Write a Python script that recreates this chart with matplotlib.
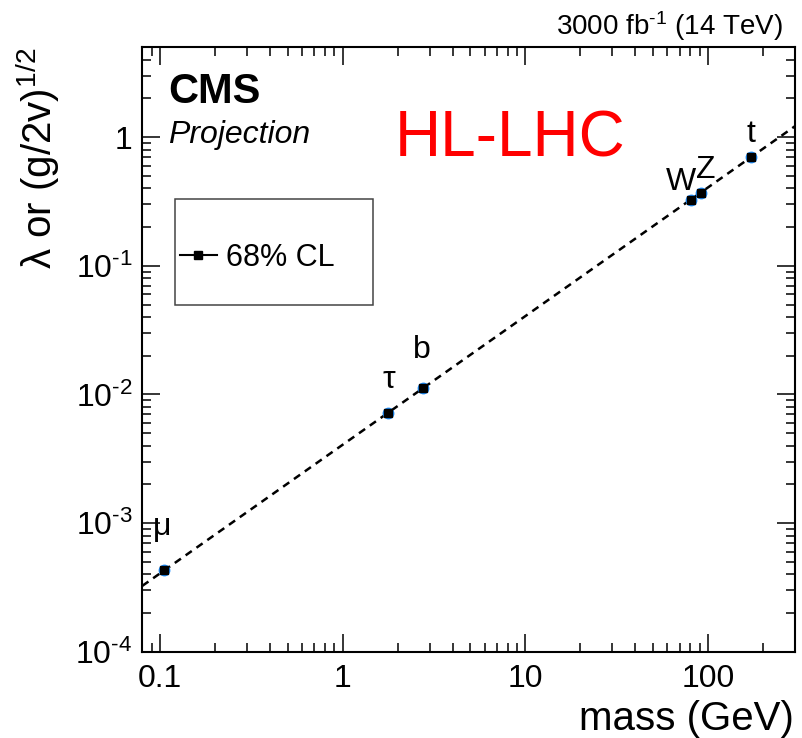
import numpy as np
import matplotlib
matplotlib.use("Agg")
import matplotlib.pyplot as plt
from matplotlib.patches import Rectangle
from matplotlib.lines import Line2D
from matplotlib.ticker import FixedLocator, LogLocator, FuncFormatter, NullFormatter

plt.rcParams['font.family'] = ['Liberation Sans', 'DejaVu Sans']
plt.rcParams['mathtext.fontset'] = 'custom'
plt.rcParams['mathtext.rm'] = 'Liberation Sans'
plt.rcParams['mathtext.it'] = 'Liberation Sans:italic'
plt.rcParams['mathtext.bf'] = 'Liberation Sans:bold'

# data
particles = ['μ', 'τ', 'b', 'W', 'Z', 't']
mass = [0.1057, 1.777, 2.76, 80.4, 91.2, 173.0]
coupling = [4.3e-4, 7.2e-3, 0.0112, 0.327, 0.371, 0.703]

# SM expectation line (endpoints)
line_x = [0.08, 300.0]
line_y = [3.25e-4, 1.218]

x_ticks = [0.1, 1, 10, 100]
x_ticklabels = ['0.1', '1', '10', '100']
y_ticks = [1e-4, 1e-3, 1e-2, 1e-1, 1]

# label offsets in pixels (dx, dy to baseline)
label_off = {'μ': (-2, 35), 'τ': (1, 25), 'b': (-1, 30),
             'W': (-10, 10), 'Z': (5, 15), 't': (0, 15)}

W, H = 802, 738
fig = plt.figure(figsize=(W / 100, H / 100), dpi=100)
ax = fig.add_axes([142.3 / W, 1 - 651.7 / H, 652.7 / W, 604.4 / H])

ax.set_xscale('log')
ax.set_yscale('log')
ax.set_xlim(0.08, 300)
ax.set_ylim(1e-4, 5)

ax.plot(line_x, line_y, color='black', lw=1.8, linestyle=(0, (3.0, 2.3)), zorder=2)
ax.plot(mass, coupling, linestyle='none', marker='o', ms=7.5, color='#1e90ff',
        mec='#1e90ff', zorder=3)
ax.plot(mass, coupling, linestyle='none', marker='s', ms=6, color='black', zorder=4)

px = 72 / 100  # pixels -> points
for name, m, c in zip(particles, mass, coupling):
    dx, dy = label_off[name]
    ax.annotate(name, (m, c), xytext=(dx * px, dy * px), textcoords='offset points',
                ha='center', va='baseline', fontsize=23)


def ylab(v, pos):
    if abs(v - 1) < 1e-9:
        return '1'
    return r'10$^{\text{-}%d}$' % int(round(-np.log10(v)))


# axes style (ROOT-like)
for s in ax.spines.values():
    s.set_linewidth(1.5)
ax.xaxis.set_major_locator(FixedLocator(x_ticks))
ax.xaxis.set_major_formatter(FuncFormatter(lambda v, p: x_ticklabels[x_ticks.index(v)] if v in x_ticks else ''))
ax.xaxis.set_minor_locator(LogLocator(base=10, subs=np.arange(2, 10)))
ax.xaxis.set_minor_formatter(NullFormatter())
ax.yaxis.set_major_locator(FixedLocator(y_ticks))
ax.yaxis.set_major_formatter(FuncFormatter(ylab))
ax.yaxis.set_minor_locator(LogLocator(base=10, subs=np.arange(2, 10)))
ax.yaxis.set_minor_formatter(NullFormatter())
ax.tick_params(which='both', direction='in', top=True, right=True, width=1.1)
ax.tick_params(which='major', length=13, labelsize=23)
ax.tick_params(which='minor', length=6.5)
ax.tick_params(axis='x', which='major', pad=9)
ax.tick_params(axis='y', which='major', pad=7)

# axis titles
fig.text(794 / W, 1 - 730 / H, 'mass (GeV)', ha='right', va='baseline', fontsize=29)
fig.text(38 / W, 1 - 48 / H, r'λ or (g/2v)$^{1/2}$', rotation=90, ha='center', va='top',
         fontsize=29)

# header texts
fig.text(783 / W, 1 - 35 / H, r'3000 fb$^{\text{-}1}$ (14 TeV)', ha='right', va='baseline',
         fontsize=20)
fig.text(168 / W, 1 - 103 / H, 'CMS', ha='left', va='baseline', fontsize=30, fontweight='bold')
fig.text(168 / W, 1 - 143 / H, 'Projection', ha='left', va='baseline', fontsize=23, style='italic')
fig.text(395 / W, 1 - 156.7 / H, 'HL-LHC', ha='left', va='baseline', fontsize=46, color='red')

# legend box
fig.patches.append(Rectangle((175 / W, 1 - 305 / H), 198 / W, 106 / H, transform=fig.transFigure,
                             fill=False, edgecolor='#444444', lw=1.1))
handle = Line2D([], [], color='black', lw=1.5, marker='s', ms=6)
fig.legend([handle], ['68% CL'], loc='center left', bbox_to_anchor=(180 / W, 1 - 258 / H),
           frameon=False, fontsize=22, handlelength=1.2, handletextpad=0.3,
           borderpad=0, borderaxespad=0)

fig.savefig('out.png', dpi=100)
